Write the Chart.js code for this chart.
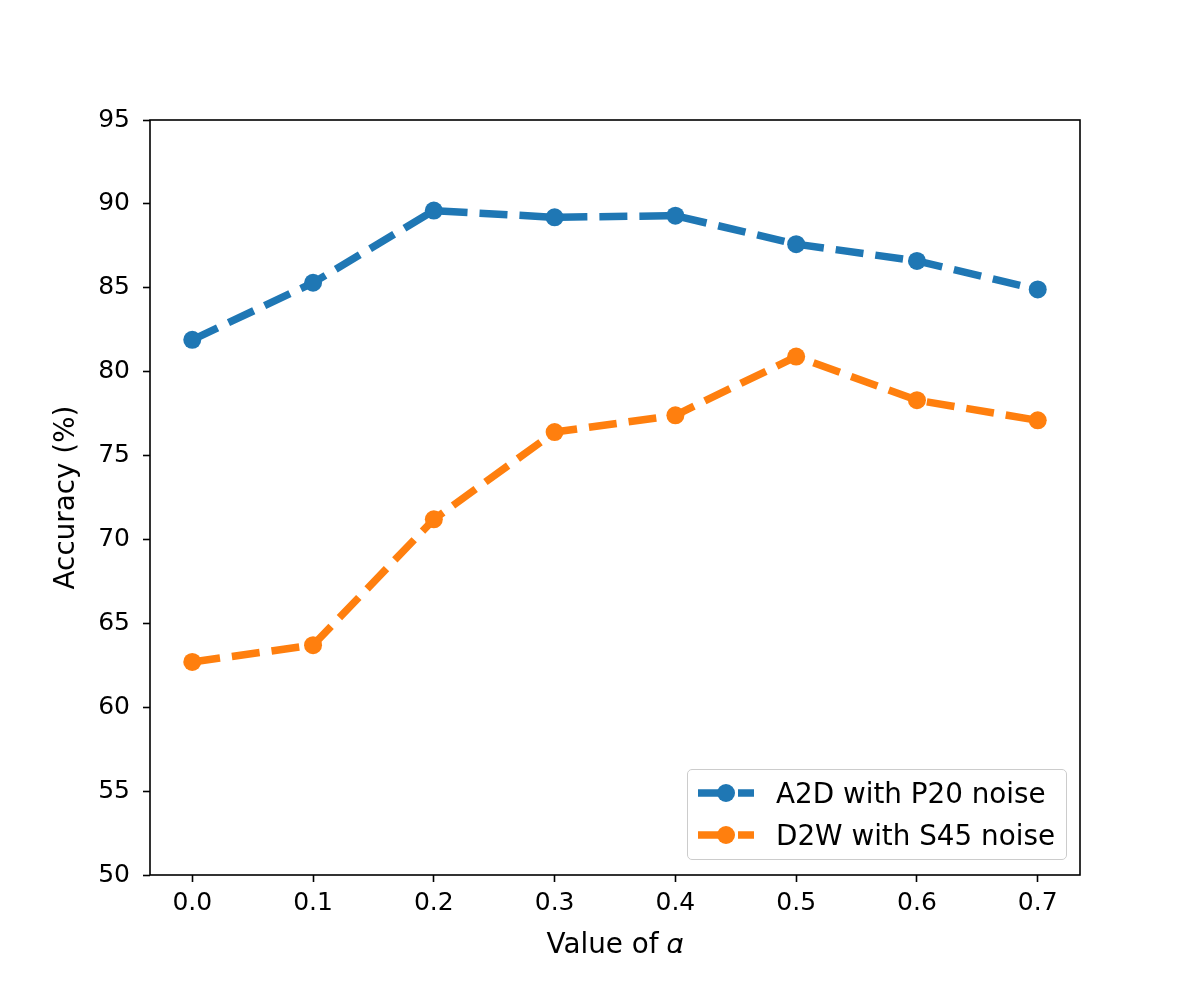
<!DOCTYPE html>
<html lang="en">
<head>
    <meta charset="UTF-8">
    <title>Accuracy vs alpha</title>
    <script src="https://cdn.jsdelivr.net/npm/chart.js"></script>
    <style>
        body { margin: 0; background: #fff; }
        #wrap { position: relative; width: 1200px; height: 1000px; }
        #legend {
            position: absolute; left: 687px; top: 769px; width: 378px; height: 89px;
            border: 1.5px solid #cccccc; border-radius: 5px; background: rgba(255,255,255,0.8);
            font-family: 'DejaVu Sans', sans-serif; font-size: 27.8px; color: #000;
        }
        .row { position: absolute; left: 10px; height: 30px; display: flex; align-items: center; }
        .row span { margin-left: 22px; white-space: nowrap; }
    </style>
</head>
<body>
<div id="wrap">
    <canvas id="myChart" width="1200" height="1000"></canvas>
    <div id="legend"></div>
</div>
<script>
const alphas = [0.0, 0.1, 0.2, 0.3, 0.4, 0.5, 0.6, 0.7];
const a2dP20 = [81.9, 85.3, 89.6, 89.2, 89.3, 87.6, 86.6, 84.9];
const d2wS45 = [62.7, 63.7, 71.2, 76.4, 77.4, 80.9, 78.3, 77.1];
const yTicks = [50, 55, 60, 65, 70, 75, 80, 85, 90, 95];
const seriesNames = ['A2D with P20 noise', 'D2W with S45 noise'];
const colors = ['#1f77b4', '#ff7f0e'];

const tickFont = { family: 'DejaVu Sans', size: 25 };
const labelFont = { family: 'DejaVu Sans', size: 27.8 };

function makeSet(label, vals, color) {
    return {
        label: label,
        data: alphas.map((a, i) => ({ x: a, y: vals[i] })),
        borderColor: color,
        backgroundColor: color,
        borderWidth: 7.5,
        borderDash: [28, 12],
        borderJoinStyle: 'round',
        pointRadius: 9,
        pointBorderWidth: 0,
        pointBackgroundColor: color,
        tension: 0,
        fill: false
    };
}

// box around plot area (matplotlib spines)
const frame = {
    id: 'frame',
    afterDraw(chart) {
        const a = chart.chartArea, c = chart.ctx;
        c.save();
        c.strokeStyle = '#000';
        c.lineWidth = 1.6;
        c.strokeRect(a.left, a.top, a.right - a.left, a.bottom - a.top);
        c.restore();
    }
};

const ctx = document.getElementById('myChart').getContext('2d');
const myChart = new Chart(ctx, {
    type: 'line',
    data: {
        datasets: [
            makeSet(seriesNames[0], a2dP20, colors[0]),
            makeSet(seriesNames[1], d2wS45, colors[1])
        ]
    },
    options: {
        responsive: false,
        animation: false,
        layout: { padding: { top: 120, right: 120, left: 0, bottom: 0 } },
        plugins: { legend: { display: false }, tooltip: { enabled: false } },
        scales: {
            x: {
                type: 'linear',
                min: -0.035,
                max: 0.735,
                afterBuildTicks: s => { s.ticks = alphas.map(v => ({ value: v })); },
                afterFit: s => { s.height = 125; },
                grid: { drawOnChartArea: false, drawTicks: true, tickLength: 7, tickColor: '#000', tickWidth: 1.6 },
                border: { display: false },
                ticks: { color: '#000', font: tickFont, padding: 6, maxRotation: 0, callback: v => Number(v).toFixed(1) },
                title: { display: true, text: 'Value of 𝛼', color: '#000', font: labelFont, padding: { top: 0, bottom: 38 } }
            },
            y: {
                min: 50,
                max: 95,
                afterBuildTicks: s => { s.ticks = yTicks.map(v => ({ value: v })); },
                afterFit: s => { s.width = 150; },
                grid: { drawOnChartArea: false, drawTicks: true, tickLength: 7, tickColor: '#000', tickWidth: 1.6 },
                border: { display: false },
                ticks: { color: '#000', font: tickFont, padding: 13 },
                title: { display: true, text: 'Accuracy (%)', color: '#000', font: labelFont, padding: { top: 50, bottom: 0 } }
            }
        }
    },
    plugins: [frame]
});

// legend inside the plot, lower right
const legend = document.getElementById('legend');
seriesNames.forEach((name, i) => {
    const row = document.createElement('div');
    row.className = 'row';
    row.style.top = (8 + i * 42) + 'px';
    row.innerHTML =
        '<svg width="56" height="24"><line x1="0" y1="12" x2="56" y2="12" stroke="' + colors[i] +
        '" stroke-width="7.5" stroke-dasharray="28 12"/><circle cx="28" cy="12" r="9" fill="' + colors[i] + '"/></svg>' +
        '<span>' + name + '</span>';
    legend.appendChild(row);
});
</script>
</body>
</html>
